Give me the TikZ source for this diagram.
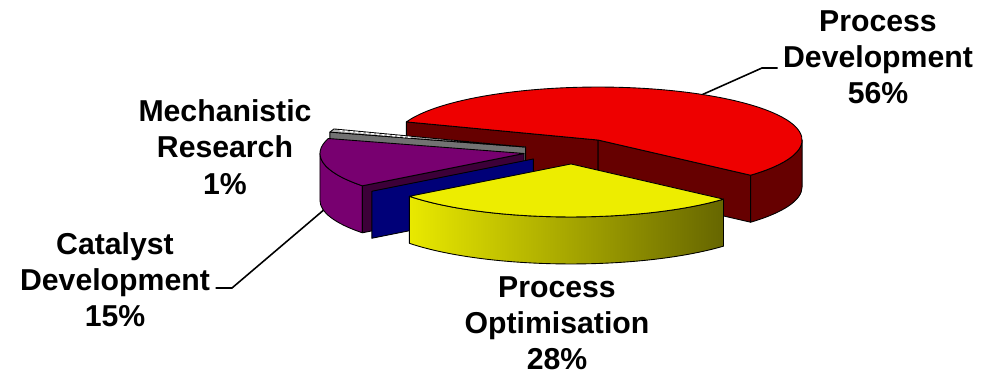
\documentclass[tikz,border=0pt]{standalone}
\usepackage{fontspec}
\setmainfont{Liberation Sans}
\usepackage{xcolor}
\usepackage{tikz}
\usetikzlibrary{calc}
\definecolor{devTop}{HTML}{EE0000}
\definecolor{devSide}{HTML}{660000}
\definecolor{optTop}{HTML}{EDED00}
\definecolor{optLight}{HTML}{E9E900}
\definecolor{optDark}{HTML}{666600}
\definecolor{catTop}{HTML}{780070}
\definecolor{catCut}{HTML}{3C0038}
\definecolor{zeroBlue}{HTML}{000078}
\definecolor{mechTop}{HTML}{B4B4B4}
\definecolor{mechSide}{HTML}{727272}
% pie geometry (x/y radius, depth, explode factor)
\newcommand{\pieA}{204}
\newcommand{\pieB}{53}
\newcommand{\pieH}{47}
\newcommand{\pieX}{0.243}
\tikzset{
  face/.style={draw=black, line width=0.5pt, line join=round, fill=#1},
  rim/.style={x radius=\pieA, y radius=\pieB},
  pielabel/.style={font=\bfseries\fontsize{17.2}{20.6}\selectfont, align=center, inner sep=0pt},
  leader/.style={draw=black, line width=0.9pt},
}

\begin{document}
\begin{tikzpicture}[x=0.02cm,y=0.02cm]
  \useasboundingbox (0,0) rectangle (984,374);
  \coordinate (ctr) at (572.7,222.9);

  % slice apexes, each pushed out along its middle angle
  \coordinate (devApex)  at ($(ctr)+({\pieX*\pieA*cos(59.2)},{\pieX*\pieB*sin(59.2)})$);
  \coordinate (mechApex) at ($(ctr)+({\pieX*\pieA*cos(161.8)},{\pieX*\pieB*sin(161.8)})$);
  \coordinate (catApex)  at ($(ctr)+({\pieX*\pieA*cos(190.6)},{\pieX*\pieB*sin(190.6)})$);
  \coordinate (zeroApex) at ($(ctr)+({\pieX*\pieA*cos(217.6)},{\pieX*\pieB*sin(217.6)})$);
  \coordinate (optApex)  at ($(ctr)+({\pieX*\pieA*cos(-92)},{\pieX*\pieB*sin(-92)})$);

  \coordinate (devA)  at ($(devApex)+({\pieA*cos(-41.6)},{\pieB*sin(-41.6)})$);
  \coordinate (devB)  at ($(devApex)+({\pieA*cos(160)},{\pieB*sin(160)})$);
  \coordinate (devMid) at ($(devApex)+({\pieA*cos(59.2)},{\pieB*sin(59.2)})$);
  \coordinate (mechA) at ($(mechApex)+({\pieA*cos(160)},{\pieB*sin(160)})$);
  \coordinate (mechB) at ($(mechApex)+({\pieA*cos(163.6)},{\pieB*sin(163.6)})$);
  \coordinate (catA)  at ($(catApex)+({\pieA*cos(163.6)},{\pieB*sin(163.6)})$);
  \coordinate (catL)  at ($(catApex)+(-\pieA,0)$);
  \coordinate (catB)  at ($(catApex)+({\pieA*cos(217.6)},{\pieB*sin(217.6)})$);
  \coordinate (catMid) at ($(catApex)+({\pieA*cos(190.6)},{\pieB*sin(190.6)-\pieH})$);
  \coordinate (zeroB) at ($(zeroApex)+({\pieA*cos(217.6)},{\pieB*sin(217.6)})$);
  \coordinate (optA)  at ($(optApex)+({\pieA*cos(-142.4)},{\pieB*sin(-142.4)})$);

  % Process Development
  \draw[face=devSide] (devApex) -- (devB) -- ++(0,-\pieH) -- ($(devApex)+(0,-\pieH)$) -- cycle;
  \draw[face=devSide] (devApex) -- (devA) -- ++(0,-\pieH) -- ($(devApex)+(0,-\pieH)$) -- cycle;
  \draw[face=devSide] (devA) arc[rim, start angle=-41.6, end angle=0] -- ++(0,-\pieH)
    arc[rim, start angle=0, end angle=-41.6] -- cycle;
  \draw[face=devTop] (devApex) -- (devA) arc[rim, start angle=-41.6, end angle=160] -- cycle;

  % Mechanistic Research
  \draw[face=mechSide] (mechApex) -- (mechB) -- ++(0,-\pieH) -- ($(mechApex)+(0,-\pieH)$) -- cycle;
  \draw[face=mechTop] (mechApex) -- (mechA) arc[rim, start angle=160, end angle=163.6] -- cycle;
  \draw[white, line width=0.8pt, dash pattern=on 1.5pt off 1.5pt]
    ($(mechA)!0.03!(mechApex)+(0,-1.2)$) -- ($(mechA)!0.4!(mechApex)+(0,-1.2)$);

  % Catalyst Development
  \draw[face=catTop] (catL) arc[rim, start angle=180, end angle=217.6] -- ++(0,-\pieH)
    arc[rim, start angle=217.6, end angle=180] -- cycle;
  \draw[face=catCut] (catApex) -- (catB) -- ++(0,-\pieH) -- ($(catApex)+(0,-\pieH)$) -- cycle;
  \draw[face=catTop] (catApex) -- (catA) arc[rim, start angle=163.6, end angle=217.6] -- cycle;

  % empty slice
  \draw[face=zeroBlue] (zeroApex) -- (zeroB) -- ++(0,-\pieH) -- ($(zeroApex)+(0,-\pieH)$) -- cycle;

  % Process Optimisation
  \draw[face=optTop, left color=optLight, right color=optDark] (optA) arc[rim, start angle=-142.4, end angle=-41.6]
    -- ++(0,-\pieH) arc[rim, start angle=-41.6, end angle=-142.4] -- cycle;
  \draw[face=optTop] (optApex) -- (optA) arc[rim, start angle=-142.4, end angle=-41.6] -- cycle;

  % labels
  \node[pielabel] (lblDev)  at (878,316.5) {Process\\Development\\56\%};
  \node[pielabel] (lblMech) at (225,227)   {Mechanistic\\Research\\1\%};
  \node[pielabel] (lblCat)  at (115,94.5)  {Catalyst\\Development\\15\%};
  \node[pielabel] (lblOpt)  at (557,50.5)  {Process\\Optimisation\\28\%};

  \coordinate (devKnee) at (762,306);
  \coordinate (catKnee) at (232,86);
  \draw[leader, shorten >=3pt] (devMid) -- (devKnee) -- (devKnee -| lblDev.west);
  \draw[leader, shorten >=3pt] (catMid) -- (catKnee) -- (catKnee -| lblCat.east);
\end{tikzpicture}
\end{document}
